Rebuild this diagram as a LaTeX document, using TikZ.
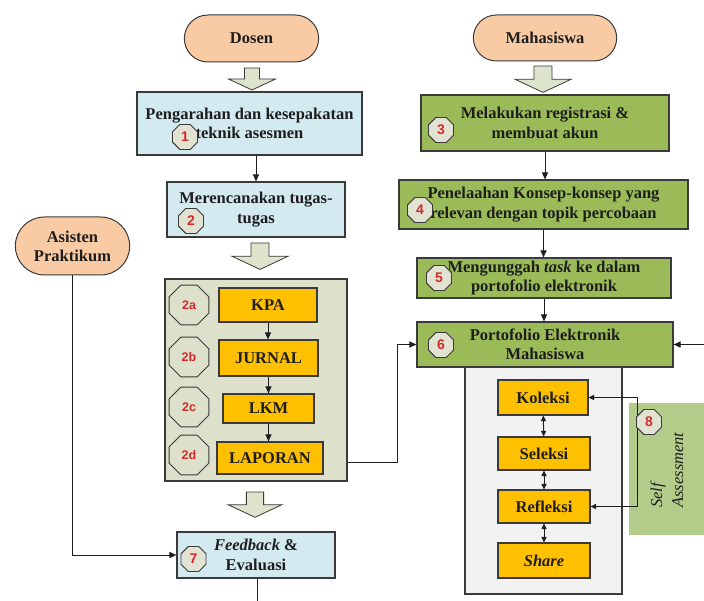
\documentclass[tikz,border=0pt]{standalone}
\usepackage{fontspec}
\setmainfont{Liberation Serif}
\newfontfamily\numfont{Liberation Sans}
\usetikzlibrary{arrows.meta, positioning, shapes.geometric, shapes.misc}

\definecolor{peach}{HTML}{F8CBA4}
\definecolor{lightblue}{HTML}{D4EAF1}
\definecolor{grass}{HTML}{9BBB59}
\definecolor{amber}{HTML}{FFC000}
\definecolor{olivegray}{HTML}{DDE0CB}
\definecolor{sheet}{HTML}{F2F2F2}
\definecolor{panel}{HTML}{B3CC8A}
\definecolor{octfill}{HTML}{E2E2D2}
\definecolor{arrfill}{HTML}{DEE4CC}
\definecolor{numred}{HTML}{D22A2A}
\definecolor{edge}{HTML}{3A3A3A}
\definecolor{ink}{HTML}{1E1E1E}

\tikzset{
  panah/.pic={
    \draw[fill=arrfill, draw=edge, line width=0.8pt]
      (-7.5,0) -- (7.5,0) -- (7.5,11) -- (23.5,11) -- (0,22) -- (-23.5,11) -- (-7.5,11) -- cycle;
  }
}

\begin{document}
\begin{tikzpicture}[x=1pt, y=-1pt,
    pill/.style={rounded rectangle, draw=edge, fill=peach, line width=1pt, align=center, text=ink,
      font=\bfseries\fontsize{16.5}{19}\selectfont},
    bluebox/.style={rectangle, draw=edge, fill=lightblue, line width=1.1pt, align=center, text=ink,
      inner sep=0pt, font=\bfseries\fontsize{16.5}{19.5}\selectfont},
    greenbox/.style={bluebox, fill=grass},
    orangebox/.style={bluebox, fill=amber},
    num/.style={regular polygon, regular polygon sides=8, minimum size=27pt, inner sep=0pt,
      draw=edge, fill=octfill, line width=0.9pt, text=numred, font=\numfont\bfseries\fontsize{14}{14}\selectfont},
    bignum/.style={num, minimum size=43pt, fill=olivegray, font=\numfont\bfseries\fontsize{12.5}{12.5}\selectfont},
    conn/.style={draw=ink, line width=1pt, -{Triangle[length=7pt,width=6pt]}},
    dconn/.style={draw=ink, line width=1pt, {Triangle[length=5.5pt,width=5pt]}-{Triangle[length=5.5pt,width=5pt]}}
]
    \useasboundingbox (0,0) rectangle (704,601);

    % aktor
    \node[pill, minimum width=141pt, minimum height=47pt] (dosen) at (251.5,38.5) {Dosen};
    \node[pill, minimum width=150pt, minimum height=46pt] (mhs) at (545,38) {Mahasiswa};
    \node[pill, minimum width=121pt, minimum height=58pt] (asisten) at (72.5,246) {Asisten\\Praktikum};

    % panah besar
    \pic at (252,68) {panah};
    \pic[scale=1.2] at (543,66) {panah};
    \pic[scale=1.2] at (260,243) {panah};
    \pic[scale=1.15] at (255,492) {panah};

    % kolom dosen
    \node[bluebox, minimum width=225pt, minimum height=63pt] (p1) at (249.5,123.5)
        {Pengarahan dan kesepakatan\\teknik asesmen};
    \node[bluebox, minimum width=178pt, minimum height=55pt] (p2) at (256,209.5)
        {Merencanakan tugas-\\tugas};
    \node[rectangle, draw=edge, fill=olivegray, line width=1.3pt, minimum width=182pt, minimum height=202pt]
        (tugas) at (256,380) {};
    \node[orangebox, minimum width=98pt, minimum height=34pt] (kpa) at (268,305) {KPA};
    \node[orangebox, minimum width=99pt, minimum height=36pt] (jurnal) at (268.5,358) {JURNAL};
    \node[orangebox, minimum width=91pt, minimum height=29pt] (lkm) at (268.5,408.5) {LKM};
    \node[orangebox, minimum width=106pt, minimum height=32pt] (laporan) at (270,458) {LAPORAN};
    \node[bluebox, minimum width=158pt, minimum height=46pt] (fb) at (256,555)
        {\textit{Feedback} \&\\Evaluasi};

    % kolom mahasiswa
    \node[greenbox, minimum width=248pt, minimum height=56pt] (m3) at (545,123)
        {Melakukan registrasi \&\\membuat akun};
    \node[greenbox, minimum width=289pt, minimum height=49pt] (m4) at (543.5,204.5)
        {Penelaahan Konsep-konsep yang\\relevan dengan topik percobaan};
    \node[greenbox, minimum width=254pt, minimum height=40pt] (m5) at (544,278)
        {Mengunggah \textit{task} ke dalam\\portofolio elektronik};
    \node[rectangle, draw=edge, fill=sheet, line width=1.1pt, minimum width=157pt, minimum height=227pt]
        (porto) at (543.5,480.5) {};
    \node[greenbox, minimum width=256pt, minimum height=45pt] (m6) at (545,344.5)
        {Portofolio Elektronik\\Mahasiswa};
    \node[orangebox, minimum width=90pt, minimum height=35pt] (koleksi) at (543,397.5) {Koleksi};
    \node[orangebox, minimum width=92pt, minimum height=33pt] (seleksi) at (544,453.5) {Seleksi};
    \node[orangebox, minimum width=92pt, minimum height=33pt] (refleksi) at (544,506.5) {Refleksi};
    \node[orangebox, minimum width=92pt, minimum height=35pt] (share) at (544,560.5) {\textit{Share}};

    % self assessment
    \node[rectangle, fill=panel, minimum width=75pt, minimum height=132pt] (self) at (666.5,469) {};
    \node[rotate=90, align=left, text=ink, font=\itshape\fontsize{16.5}{21}\selectfont] (selftxt) at (667,470)
        {Self\\Assessment};

    % nomor
    \node[num] (n1) at (185,137) {1};
    \node[num] (n2) at (191,221) {2};
    \node[num] (n3) at (441,130) {3};
    \node[num] (n4) at (420,210) {4};
    \node[num] (n5) at (439,278) {5};
    \node[num] (n6) at (441,345) {6};
    \node[num] (n7) at (193.5,559) {7};
    \node[bignum] (n2a) at (189,305) {2a};
    \node[bignum] (n2b) at (189,357) {2b};
    \node[bignum] (n2c) at (189,407) {2c};
    \node[bignum] (n2d) at (189,455) {2d};

    % alur
    \coordinate (kanan) at (704,344.5);
    \coordinate (bawah) at (257,601);
    \draw[conn] (p2.north |- p1.south) -- (p2.north);
    \draw[conn] (kpa.south) -- (kpa.south |- jurnal.north);
    \draw[conn] (jurnal.south) -- (jurnal.south |- lkm.north);
    \draw[conn] (lkm.south) -- (lkm.south |- laporan.north);
    \draw[conn] (m3.south) -- (m3.south |- m4.north);
    \draw[conn] (m4.south) -- (m4.south |- m5.north);
    \draw[conn] (m5.south) -- (m5.south |- m6.north);
    \draw[conn] (tugas.east |- 0,462) -- (397,462) |- (m6.west);
    \draw[conn] (kanan) -- (m6.east);
    \draw[conn] (asisten.south) |- (fb.west);
    \draw[draw=ink, line width=1pt] (fb.south -| bawah) -- (bawah);
    \draw[dconn] (koleksi) -- (seleksi);
    \draw[dconn] (seleksi) -- (refleksi);
    \draw[dconn] (refleksi) -- (share);
    \draw[dconn] (koleksi.east) -- ++(49,0) |- (refleksi.east);
    \node[num] (n8) at (649,422) {8};
\end{tikzpicture}
\end{document}
